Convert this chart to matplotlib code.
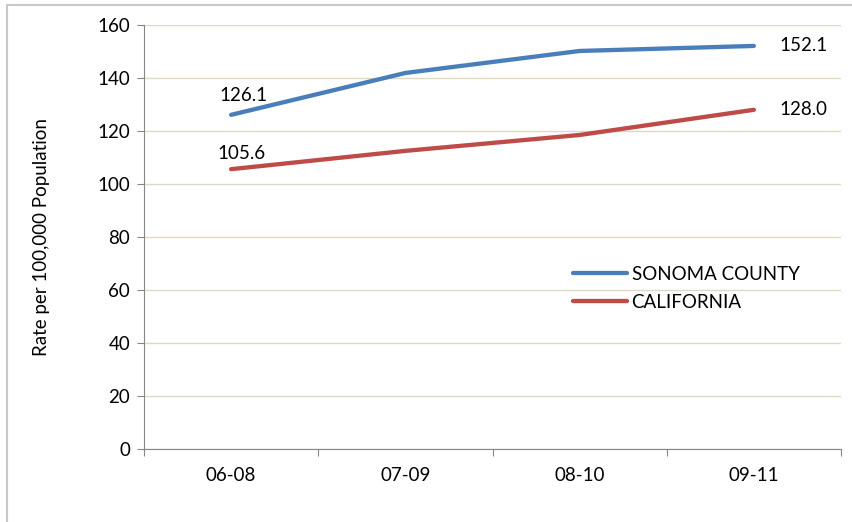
import matplotlib
matplotlib.use("Agg")
import matplotlib.pyplot as plt
from matplotlib.patches import Rectangle

periods = ["06-08", "07-09", "08-10", "09-11"]
sonoma = [126.1, 141.9, 150.2, 152.1]
california = [105.6, 112.5, 118.5, 128.0]
series_names = ["SONOMA COUNTY", "CALIFORNIA"]
y_ticks = [0, 20, 40, 60, 80, 100, 120, 140, 160]

plt.rcParams['font.family'] = ['Lato', 'DejaVu Sans']
FS = 13.5

fig = plt.figure(figsize=(8.52, 5.22), dpi=100)
fig.patches.append(Rectangle((7/852, -0.1), 1.2, (522-5)/522 + 0.1, transform=fig.transFigure,
                             fill=False, edgecolor='#C8C8C8', linewidth=1.5))
ax = fig.add_axes([144/852, 73/522, (841-144)/852, (449-25)/522])

x = list(range(len(periods)))
blue = '#4A7EBB'
red = '#BE4B48'
ax.plot(x, sonoma, color=blue, lw=3.1, solid_capstyle='round', label=series_names[0], zorder=3)
ax.plot(x, california, color=red, lw=3.1, solid_capstyle='round', label=series_names[1], zorder=3)

ax.set_xlim(-0.5, len(periods) - 0.5)
ax.set_ylim(0, 160)
ax.set_yticks(y_ticks)
ax.set_yticklabels([str(v) for v in y_ticks], fontsize=FS)
ax.yaxis.grid(True, color='#DDD9C4', lw=1)
ax.set_axisbelow(True)

ax.set_xticks([i - 0.5 for i in range(len(periods) + 1)])
ax.set_xticklabels([])
ax.set_xticks(x, minor=True)
ax.set_xticklabels(periods, minor=True, fontsize=FS)
ax.tick_params(axis='x', which='minor', length=0, pad=13)
ax.tick_params(axis='x', which='major', length=5, color='#868686')
ax.tick_params(axis='y', length=5, color='#868686', pad=5)

for s in ['top', 'right']:
    ax.spines[s].set_visible(False)
for s in ['left', 'bottom']:
    ax.spines[s].set_color('#868686')

ax.set_ylabel("Rate per 100,000 Population", fontsize=FS, labelpad=34)

offsets_s = [(12, 19), None, None, (50, 0)]
offsets_c = [(10, 16), None, None, (50, 0)]
for i, off in enumerate(offsets_s):
    if off:
        ax.annotate(f"{sonoma[i]:.1f}", (x[i], sonoma[i]), xytext=off, textcoords='offset pixels',
                    ha='center', va='center', fontsize=FS)
for i, off in enumerate(offsets_c):
    if off:
        ax.annotate(f"{california[i]:.1f}", (x[i], california[i]), xytext=off, textcoords='offset pixels',
                    ha='center', va='center', fontsize=FS)

leg = ax.legend(loc='upper left', bbox_to_anchor=(421/697, (449-258)/424), frameon=False,
                fontsize=FS, handlelength=2.9, handletextpad=0.25, labelspacing=0.6,
                borderaxespad=0)

fig.savefig("out.png", dpi=100)
